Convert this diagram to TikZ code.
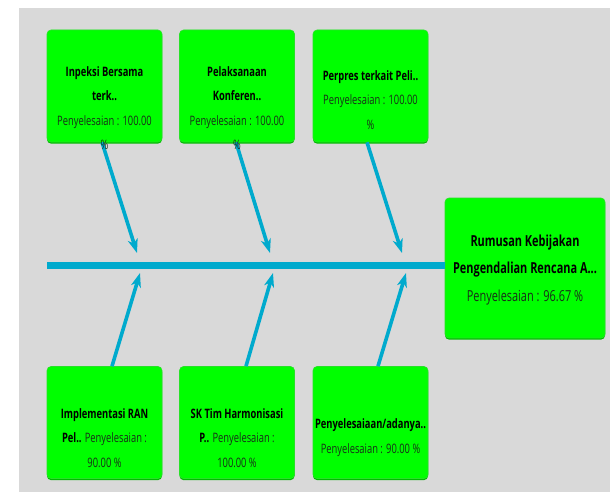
\documentclass[tikz,border=0pt]{standalone}
\usepackage{fontspec}
\setmainfont{Open Sans}[FakeStretch=0.72]
\usetikzlibrary{arrows.meta,shadows}

\definecolor{panel}{RGB}{217,217,217}
\definecolor{boxgreen}{RGB}{0,255,0}
\definecolor{boxshade}{RGB}{0,185,0}
\definecolor{boxedge}{RGB}{40,225,40}
\definecolor{bone}{RGB}{0,170,205}
\definecolor{plain}{RGB}{25,45,25}

\tikzset{
  cause/.style={rectangle, rounded corners=4pt, fill=boxgreen, draw=boxedge,
    line width=0.6pt, minimum width=115pt, minimum height=112pt,
    drop shadow={shadow xshift=0pt, shadow yshift=-1.6pt, fill=boxshade, opacity=1}},
  effect/.style={cause, minimum width=160pt, minimum height=140pt},
  txt/.style={align=center, font=\fontsize{13}{24.5}\selectfont, text=plain, inner sep=0pt},
  bigtxt/.style={txt, font=\fontsize{15.2}{27.5}\selectfont},
  bonearrow/.style={draw=bone, line width=3.6pt,
    -{Stealth[length=14pt, width=10pt, inset=4pt]}},
  spine/.style={draw=bone, line width=7pt}
}
\newcommand{\hd}[1]{{\bfseries\color{black}#1}}

\begin{document}
\begin{tikzpicture}[x=1pt, y=-1pt]
  \useasboundingbox (0,0) rectangle (610,492);
  \fill[white] (0,0) rectangle (610,492);
  \fill[panel] (19,8) rectangle (610,492);

  % boxes
  \node[cause] (b1) at (104.5,86) {};
  \node[cause] (b2) at (237,86) {};
  \node[cause] (b3) at (370.5,86) {};
  \node[cause] (b4) at (104.5,422.5) {};
  \node[cause] (b5) at (237,422.5) {};
  \node[cause] (b6) at (370.5,422.5) {};
  \node[effect] (head) at (525,268) {};

  % spine
  \coordinate (tail) at (47,265);
  \draw[spine] (tail) -- (head.west |- tail);

  % arrow tips on the spine
  \coordinate (e1) at (137,253);
  \coordinate (e2) at (270,253);
  \coordinate (e3) at (402,253);
  \coordinate (e4) at (140,273);
  \coordinate (e5) at (273,273);
  \coordinate (e6) at (406,273);

  \draw[bonearrow] ([xshift=-2.5pt]b1.south) -- (e1);
  \draw[bonearrow] ([xshift=-1pt]b2.south) -- (e2);
  \draw[bonearrow] ([xshift=-3.5pt]b3.south) -- (e3);
  \draw[bonearrow] ([xshift=7.5pt]b4.north) -- (e4);
  \draw[bonearrow] ([xshift=9pt]b5.north) -- (e5);
  \draw[bonearrow] ([xshift=7.5pt]b6.north) -- (e6);

  % labels
  \node[txt] (t1) at (104.5,108) {\hd{Inpeksi Bersama}\\\hd{terk..}\\Penyelesaian : 100.00\\\%};
  \node[txt] (t2) at (237,108) {\hd{Pelaksanaan}\\\hd{Konferen..}\\Penyelesaian : 100.00\\\%};
  \node[txt] (t3) at (370.5,100) {\hd{Perpres terkait Peli..}\\Penyelesaian : 100.00\\\%};
  \node[txt] (t4) at (104.5,438) {\hd{Implementasi RAN}\\\hd{Pel..} Penyelesaian :\\90.00 \%};
  \node[txt] (t5) at (237,438) {\hd{SK Tim Harmonisasi}\\\hd{P..} Penyelesaian :\\100.00 \%};
  \node[txt] (t6) at (370.5,437.5) {\hd{Penyelesaiaan/adanya..}\\Penyelesaian : 90.00 \%};
  \node[bigtxt] (th) at (525,270) {\hd{Rumusan Kebijakan}\\\hd{Pengendalian Rencana A...}\\Penyelesaian : 96.67 \%};
\end{tikzpicture}
\end{document}
